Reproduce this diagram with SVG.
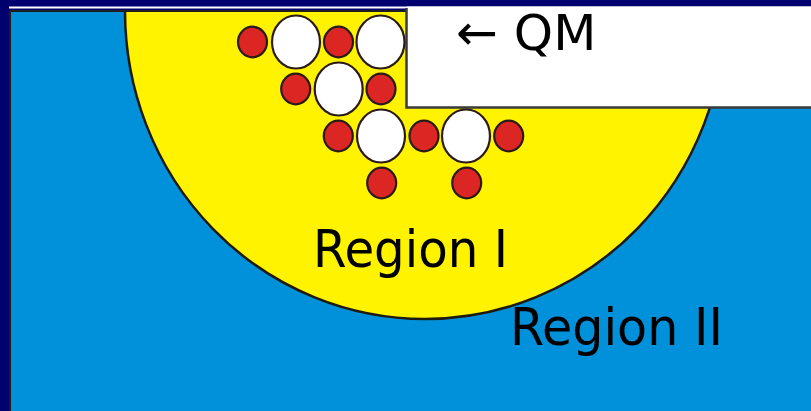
<svg xmlns="http://www.w3.org/2000/svg" width="811" height="411" viewBox="0 0 811 411">
  <defs>
    <style>
      .red { fill: #dc2623; stroke: #2a1a1a; stroke-width: 2.2; }
      .white { fill: #ffffff; stroke: #2a1a1a; stroke-width: 2.2; }
      .label { font-family: "DejaVu Sans", "Liberation Sans", sans-serif; fill: #000000; }
    </style>
  </defs>

  <g id="frame">
    <rect x="0" y="0" width="811" height="411" fill="#00006e"/>
    <rect x="9" y="6.5" width="802" height="2" fill="#ffffff"/>
  </g>

  <g id="region-ii">
    <rect x="10" y="11" width="820" height="420" fill="#0091da" stroke="#1e1e1e" stroke-width="2"/>
  </g>

  <g id="region-i">
    <path d="M125,11 A300,308 0 0 0 725,11 Z" fill="#fff300"/>
    <path d="M125,11 A300,308 0 0 0 725,11" fill="none" stroke="#1e1a12" stroke-width="2.5"/>
    <line x1="10" y1="11" x2="407" y2="11" stroke="#1e1e1e" stroke-width="2"/>
  </g>

  <g id="qm-box">
    <rect x="407" y="6.5" width="404" height="101" fill="#ffffff"/>
    <path d="M406.5,8 V107.5 H811" fill="none" stroke="#3a3a3a" stroke-width="2.5"/>
    <text class="label" x="456" y="50" font-size="50">← QM</text>
  </g>

  <g id="atoms">
    <g id="row1">
      <ellipse class="red" cx="252.5" cy="42" rx="14.5" ry="15.3"/>
      <ellipse class="white" cx="296" cy="42" rx="24" ry="26.5"/>
      <ellipse class="red" cx="338.5" cy="42" rx="14.5" ry="15.3"/>
      <ellipse class="white" cx="380.5" cy="42" rx="24" ry="26.5"/>
    </g>
    <g id="row2">
      <ellipse class="red" cx="295.7" cy="89" rx="14.5" ry="15.3"/>
      <ellipse class="white" cx="338.7" cy="89" rx="24" ry="26.5"/>
      <ellipse class="red" cx="381" cy="89" rx="14.5" ry="15.3"/>
    </g>
    <g id="row3">
      <ellipse class="red" cx="338.3" cy="136" rx="14.5" ry="15.3"/>
      <ellipse class="white" cx="381" cy="136" rx="24" ry="26.5"/>
      <ellipse class="red" cx="424" cy="136" rx="14.5" ry="15.3"/>
      <ellipse class="white" cx="466" cy="136" rx="24" ry="26.5"/>
      <ellipse class="red" cx="508.7" cy="136" rx="14.5" ry="15.3"/>
    </g>
    <g id="row4">
      <ellipse class="red" cx="381.7" cy="183" rx="14.5" ry="15.3"/>
      <ellipse class="red" cx="466.7" cy="183" rx="14.5" ry="15.3"/>
    </g>
  </g>

  <g id="labels">
    <text class="label" x="313" y="267" font-size="51" textLength="195" lengthAdjust="spacingAndGlyphs">Region I</text>
    <text class="label" x="510" y="345" font-size="51" textLength="213" lengthAdjust="spacingAndGlyphs">Region II</text>
  </g>
</svg>
